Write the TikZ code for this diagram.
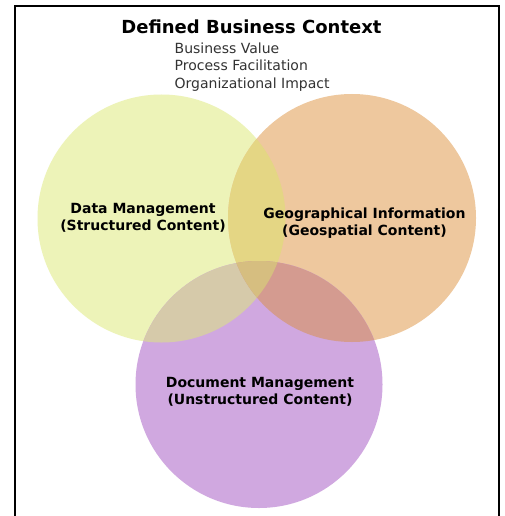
\documentclass[tikz,border=0pt]{standalone}
\usepackage{fontspec}
\setmainfont{DejaVu Sans}
\definecolor{ylw}{HTML}{EDF3B8}
\definecolor{org}{HTML}{EEC89E}
\definecolor{prp}{HTML}{D0A8E0}
\definecolor{yo}{HTML}{E4D684}
\definecolor{yp}{HTML}{D6CAAA}
\definecolor{op}{HTML}{D49B90}
\definecolor{yop}{HTML}{D6BE80}
\begin{document}
\begin{tikzpicture}[x=1pt,y=-1pt,
  lbl/.style={font=\bfseries\fontsize{14}{17}\selectfont, align=center, text=black},
  sub/.style={font=\fontsize{14}{17.5}\selectfont, text=black!80, anchor=base west, inner sep=0pt}]
\useasboundingbox (0,0) rectangle (504,516);
\fill[white] (0,0) rectangle (504,516);
% frame
\draw[line width=2pt] (15,516) -- (15,6) -- (499,6) -- (499,516);
% centres
\coordinate (cy) at (161.5,218.5);
\coordinate (co) at (352,218);
\coordinate (cp) at (259,384.5);
% circles
\fill[ylw] (cy) circle[radius=124pt];
\fill[org] (co) circle[radius=124pt];
\fill[prp] (cp) circle[radius=123.5pt];
% pairwise overlaps
\begin{scope}
  \clip (cy) circle[radius=124pt];
  \fill[yo] (co) circle[radius=124pt];
  \fill[yp] (cp) circle[radius=123.5pt];
\end{scope}
\begin{scope}
  \clip (co) circle[radius=124pt];
  \fill[op] (cp) circle[radius=123.5pt];
\end{scope}
\begin{scope}
  \clip (cy) circle[radius=124pt];
  \clip (co) circle[radius=124pt];
  \fill[yop] (cp) circle[radius=123.5pt];
\end{scope}
% title and subtitles
\node[font=\bfseries\fontsize{18}{22}\selectfont, anchor=base, inner sep=0pt] (title) at (251.5,34) {Defined Business Context};
\node[sub] (s1) at (174.5,53.3) {Business Value};
\node[sub] (s2) at (174.5,71) {Process Facilitation};
\node[sub] (s3) at (174.5,88.5) {Organizational Impact};
% labels
\node[lbl] (dm) at (143,217.5) {Data Management\\(Structured Content)};
\node[lbl] (gi) at (364.5,223) {Geographical Information\\(Geospatial Content)};
\node[lbl] (docm) at (260,392) {Document Management\\(Unstructured Content)};
\end{tikzpicture}
\end{document}
